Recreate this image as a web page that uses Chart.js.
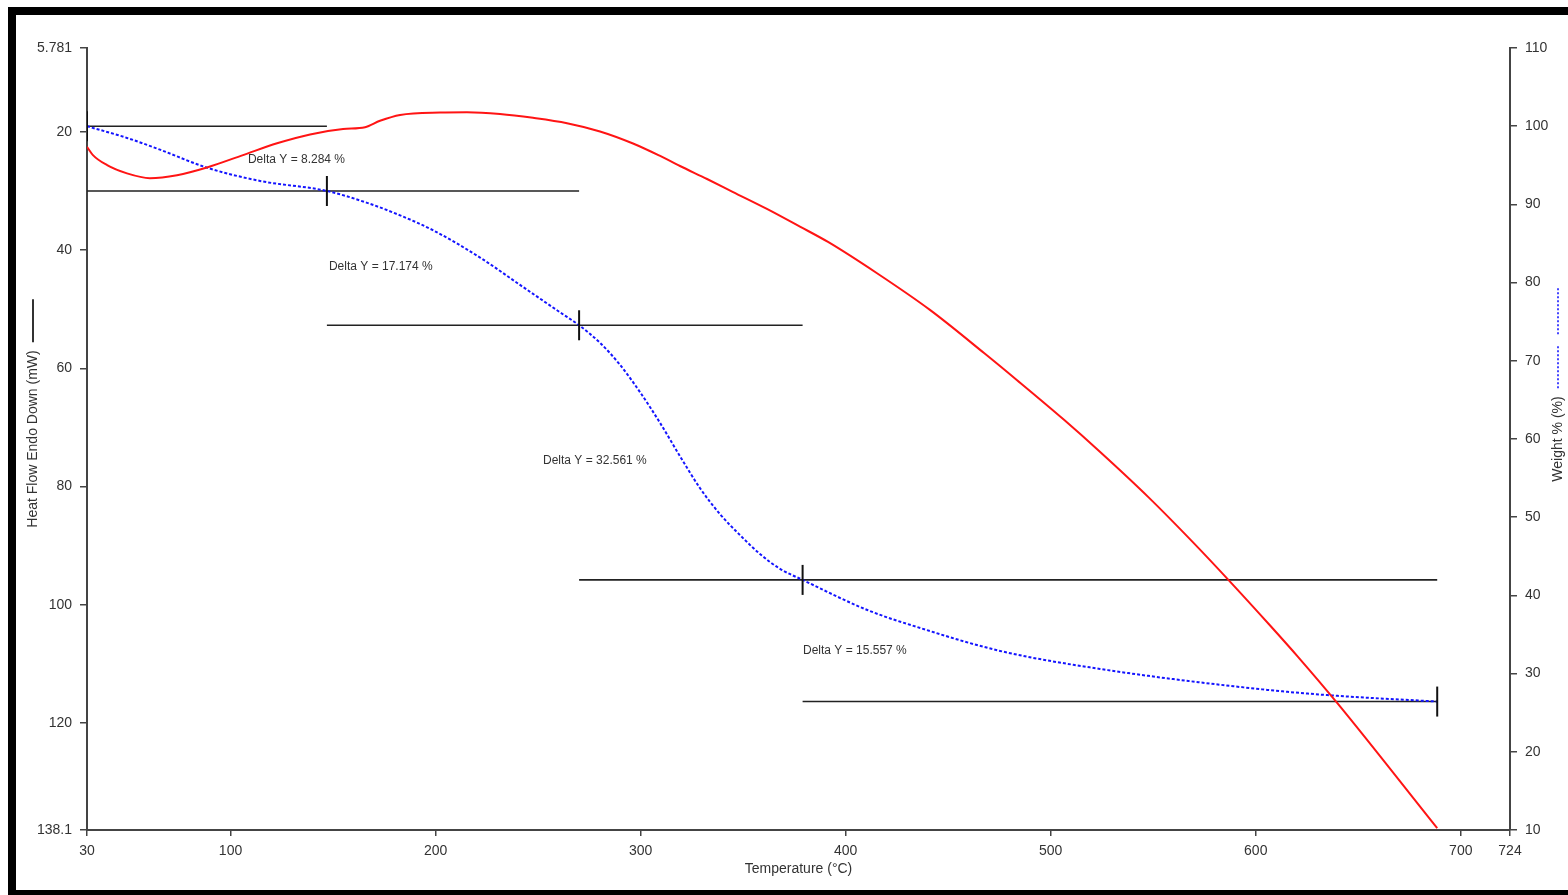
<!DOCTYPE html>
<html>
<head>
<meta charset="utf-8">
<title>TGA / DSC</title>
<script src="https://cdn.jsdelivr.net/npm/chart.js@4/dist/chart.umd.min.js"></script>
<style>
  html, body { margin: 0; padding: 0; background: #fff; }
  #wrap { position: relative; width: 1568px; height: 895px; overflow: hidden; }
  #c { position: absolute; left: 0; top: 0; }
  #frame {
    position: absolute; left: 8px; top: 7px; right: 0; bottom: 0;
    border-left: 8px solid #000; border-top: 8px solid #000; border-bottom: 5px solid #000;
    pointer-events: none;
  }
</style>
</head>
<body>
<div id="wrap">
  <canvas id="c" width="1568" height="895"></canvas>
  <div id="frame"></div>
</div>
<script>
// Axis ticks
const tempTicks = [30, 100, 200, 300, 400, 500, 600, 700, 724];
const heatTicks = [5.781, 20, 40, 60, 80, 100, 120, 138.1];

// Heat flow (mW), endo down, against temperature (°C)
const heatTemp = [30, 32.9, 39.8, 49.5, 60.7, 73.9, 88.5, 106.1, 122.7, 138.8, 154.9, 165.6, 172.9,
  182.7, 202.2, 215.3, 231.4, 247.5, 264.1, 280.2, 296.3, 309.5, 319.2, 332.4, 345.1, 361.6, 377.7,
  391.4, 415.3, 441.1, 467.5, 483.6, 506.5, 524.0, 548.0, 569.9, 587.0, 607.0, 620.6, 639.7, 688.5];
const heatFlow = [22.5, 23.9, 25.6, 27.0, 27.8, 27.3, 26.0, 23.9, 21.9, 20.4, 19.5, 19.2, 18.1,
  17.1, 16.7, 16.66, 16.95, 17.6, 18.5, 19.9, 21.94, 24.05, 25.75, 27.95, 30.15, 33.0, 36.0,
  38.6, 43.9, 50.1, 57.4, 62.0, 68.7, 74.1, 81.9, 89.6, 95.9, 103.5, 108.8, 116.6, 137.8];

// Weight (%) against temperature (°C)
const weightTemp = [30, 49.5, 65.6, 88.5, 114.4, 147, 166.6, 182.7, 198.7, 221.7, 241.2, 260.7, 270,
  280.2, 289.9, 299.7, 309.5, 319.2, 329.0, 338.7, 348.5, 358.2, 368.0, 379, 410.9, 436.7, 475.3, 524,
  597.2, 634.8, 688.5];
const weightPct = [100, 98.5, 97.0, 94.7, 93.0, 91.716, 90.2, 88.6, 86.7, 83.2, 79.7, 76.2, 74.542,
  72.3, 69.5, 66.0, 62.05, 57.8, 53.7, 50.4, 47.7, 45.3, 43.4, 41.981, 38.1, 35.8, 32.9, 30.6,
  28.15, 27.25, 26.424];

// Step analysis: limits (°C), starting weight and weight loss of each step (%)
const stepTemps = [30, 147, 270, 379, 688.5];
const stepStartWeight = 100;
const stepDeltas = [8.284, 17.174, 32.561, 15.557];
// Where each "Delta Y" note sits (°C, weight %)
const noteTemp = [108.5, 148, 252.4, 379.2];
const noteWeight = [95.7, 82.0, 57.2, 32.9];

// Weight level at each step limit
const stepLevels = [stepStartWeight];
stepDeltas.forEach((d, i) => stepLevels.push(+(stepLevels[i] - d).toFixed(3)));

// Horizontal baselines: each level spans the steps on either side of its limit
const stepLines = [];
stepLevels.forEach((lvl, k) => {
  const a = stepTemps[Math.max(0, k - 1)];
  const b = stepTemps[Math.min(stepTemps.length - 1, k + 1)];
  stepLines.push({ x: a, y: lvl }, { x: b, y: lvl }, { x: b, y: null });
});

const FONT = "'Liberation Sans', Arial, Helvetica, sans-serif";
Chart.defaults.font.family = FONT;
Chart.defaults.font.size = 14;
Chart.defaults.color = '#333';

const AXIS = '#444';

const axisTitles = {
  id: 'axisTitles',
  afterDraw(chart) {
    const { ctx, chartArea: a } = chart;
    const cy = (a.top + a.bottom) / 2;
    ctx.save();
    ctx.font = '14px ' + FONT;
    ctx.fillStyle = '#333';
    ctx.textAlign = 'center';
    ctx.textBaseline = 'middle';
    ctx.fillText('Temperature (\u00B0C)', (a.left + a.right) / 2, a.bottom + 39);

    // left title with its solid line key
    ctx.save();
    ctx.translate(a.left - 54, cy);
    ctx.rotate(-Math.PI / 2);
    const t1 = 'Heat Flow Endo Down (mW)';
    const w1 = ctx.measureText(t1).width;
    ctx.fillText(t1, 0, 0);
    ctx.strokeStyle = '#333';
    ctx.lineWidth = 2;
    ctx.beginPath();
    ctx.moveTo(w1 / 2 + 8, 0);
    ctx.lineTo(w1 / 2 + 51, 0);
    ctx.stroke();
    ctx.restore();

    // right title with its dotted line key
    ctx.save();
    ctx.translate(a.right + 48, cy);
    ctx.rotate(-Math.PI / 2);
    const t2 = 'Weight % (%)';
    const w2 = ctx.measureText(t2).width;
    ctx.fillText(t2, 0, 0);
    ctx.strokeStyle = '#4444ff';
    ctx.lineWidth = 2;
    ctx.setLineDash([2, 2]);
    ctx.beginPath();
    ctx.moveTo(w2 / 2 + 8, 0);
    ctx.lineTo(w2 / 2 + 52, 0);
    ctx.moveTo(w2 / 2 + 62, 0);
    ctx.lineTo(w2 / 2 + 108, 0);
    ctx.stroke();
    ctx.restore();
    ctx.restore();
  }
};

const deltaNotes = {
  id: 'deltaNotes',
  afterDatasetsDraw(chart) {
    const { ctx, scales } = chart;
    ctx.save();
    ctx.font = '12px ' + FONT;
    ctx.fillStyle = '#333';
    ctx.textAlign = 'left';
    ctx.textBaseline = 'middle';
    stepDeltas.forEach((d, i) => {
      const x = scales.x.getPixelForValue(noteTemp[i]);
      const y = scales.yWeight.getPixelForValue(noteWeight[i]);
      ctx.fillText('Delta Y = ' + d.toFixed(3) + ' %', x, y);
    });
    ctx.restore();
  }
};

const setTicks = values => scale => { scale.ticks = values.map(v => ({ value: v })); };

new Chart(document.getElementById('c'), {
  type: 'line',
  data: {
    datasets: [
      {
        label: 'Heat Flow',
        data: heatTemp.map((t, i) => ({ x: t, y: heatFlow[i] })),
        yAxisID: 'yHeat',
        borderColor: '#ff1414',
        borderWidth: 2,
        pointRadius: 0,
        cubicInterpolationMode: 'monotone',
        order: 2
      },
      {
        label: 'Weight %',
        data: weightTemp.map((t, i) => ({ x: t, y: weightPct[i] })),
        yAxisID: 'yWeight',
        borderColor: '#1414ff',
        borderWidth: 2,
        borderDash: [3, 2],
        pointRadius: 0,
        cubicInterpolationMode: 'monotone',
        order: 3
      },
      {
        label: 'Step baselines',
        data: stepLines,
        yAxisID: 'yWeight',
        borderColor: '#222',
        borderWidth: 1.6,
        pointRadius: 0,
        spanGaps: false,
        order: 4
      },
      {
        label: 'Step limits',
        data: stepTemps.map((t, k) => ({ x: t, y: stepLevels[k] })),
        yAxisID: 'yWeight',
        showLine: false,
        pointStyle: 'line',
        rotation: 90,
        pointRadius: 15,
        pointBorderWidth: 2,
        pointBorderColor: '#111',
        pointBackgroundColor: '#111',
        order: 1
      }
    ]
  },
  options: {
    responsive: false,
    animation: false,
    devicePixelRatio: 1,
    layout: { padding: { top: 48, left: 0, right: 0, bottom: 0 } },
    plugins: { legend: { display: false }, tooltip: { enabled: false } },
    scales: {
      x: {
        type: 'linear',
        position: 'bottom',
        min: 30,
        max: 724,
        afterBuildTicks: setTicks(tempTicks),
        afterFit: s => { s.height = 65; },
        grid: { drawOnChartArea: false, tickLength: 6, tickColor: AXIS, lineWidth: 1.5 },
        border: { color: AXIS, width: 2 },
        ticks: { autoSkip: false, maxRotation: 0, padding: 7, callback: v => String(v), font: { size: 14 } }
      },
      yHeat: {
        type: 'linear',
        position: 'left',
        reverse: true,
        min: 5.781,
        max: 138.1,
        afterBuildTicks: setTicks(heatTicks),
        afterFit: s => { s.width = 87; },
        grid: { drawOnChartArea: false, tickLength: 7, tickColor: AXIS, lineWidth: 1.5 },
        border: { color: AXIS, width: 2 },
        ticks: { autoSkip: false, padding: 8, callback: v => String(v), font: { size: 14 } }
      },
      yWeight: {
        type: 'linear',
        position: 'right',
        min: 10,
        max: 110,
        afterFit: s => { s.width = 58; },
        grid: { drawOnChartArea: false, tickLength: 7, tickColor: AXIS, lineWidth: 1.5 },
        border: { color: AXIS, width: 2 },
        ticks: { autoSkip: false, stepSize: 10, padding: 8, font: { size: 14 } }
      }
    }
  },
  plugins: [axisTitles, deltaNotes]
});
</script>
</body>
</html>
